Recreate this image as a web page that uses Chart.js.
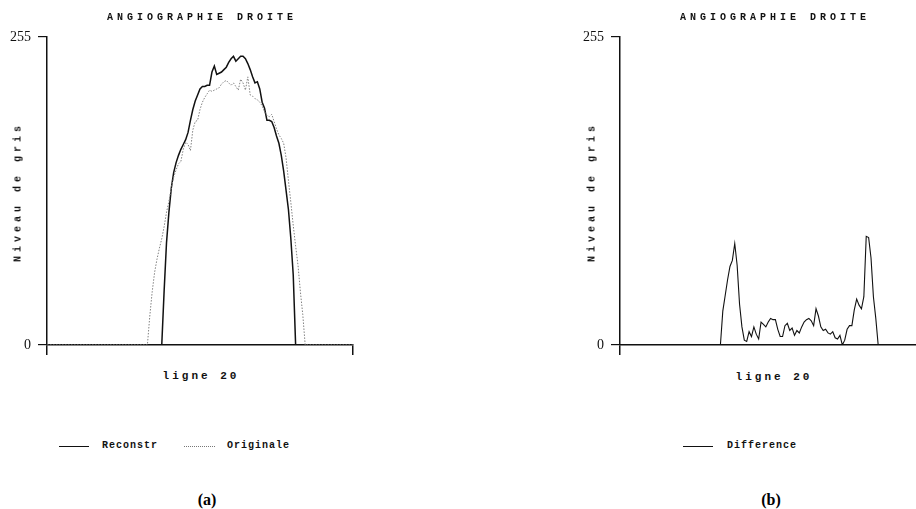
<!DOCTYPE html>
<html>
<head>
<meta charset="utf-8">
<script src="https://cdn.jsdelivr.net/npm/chart.js@4.4.1/dist/chart.umd.min.js"></script>
<style>
    html, body { margin: 0; padding: 0; background: #fff; width: 916px; height: 509px; overflow: hidden; }
    body { position: relative; }
    canvas { position: absolute; }
    .txt { position: absolute; font-family: "Liberation Mono", monospace; font-weight: bold; color: #111; white-space: nowrap; }
    .title { font-size: 10px; letter-spacing: 4px; transform: translateX(-50%); }
    .xlabel { font-size: 11px; letter-spacing: 3px; transform: translateX(-50%); }
    .ylabel { font-size: 10px; letter-spacing: 4px; transform: translate(-50%, -50%) rotate(-90deg); }
    .legend { font-size: 10px; letter-spacing: 1px; }
    .sample { position: absolute; height: 0; }
    .panel { position: absolute; font-family: "Liberation Serif", serif; font-weight: bold; font-size: 16px; transform: translateX(-50%); }
</style>
</head>
<body>
<canvas id="chartA" style="left:0;top:0;width:380px;height:370px"></canvas>
<canvas id="chartB" style="left:573px;top:0;width:380px;height:370px"></canvas>

<div class="txt title" style="left:202px;top:12px">ANGIOGRAPHIE DROITE</div>
<div class="txt title" style="left:775px;top:12px">ANGIOGRAPHIE DROITE</div>
<div class="txt ylabel" style="left:18px;top:192px">Niveau de gris</div>
<div class="txt ylabel" style="left:592px;top:192px">Niveau de gris</div>
<div class="txt xlabel" style="left:201px;top:370px">ligne 20</div>
<div class="txt xlabel" style="left:774px;top:371px">ligne 20</div>

<div class="sample" style="left:59px;top:446px;width:30px;border-top:1.5px solid #111"></div>
<div class="txt legend" style="left:102px;top:440px">Reconstr</div>
<div class="sample" style="left:184px;top:446px;width:31px;border-top:1px dotted #777"></div>
<div class="txt legend" style="left:227px;top:440px">Originale</div>
<div class="sample" style="left:683px;top:446px;width:30px;border-top:1px solid #111"></div>
<div class="txt legend" style="left:727px;top:440px">Difference</div>

<div class="panel" style="left:207px;top:491px">(a)</div>
<div class="panel" style="left:771px;top:491px">(b)</div>

<script>
    // pixel index along the profile (ligne 20)
    const xMin = 0;
    const xMax = 128;
    const yTicks = [0, 255];

    // reconstructed profile, starting at index 48
    const reconStart = 48;
    const reconstr = [0, 45, 85, 110, 130, 143, 151, 157, 162, 166, 170, 176, 186, 195, 202, 207,
        212, 214, 214, 215, 215, 226, 231, 224, 225, 226, 228, 230, 234, 237, 239, 235, 237, 239,
        239, 237, 233, 228, 222, 217, 218, 212, 201, 196, 186, 186, 185, 180, 173, 167, 157, 144,
        128, 112, 88, 58, 0];

    // original profile, starting at index 42
    const origStart = 42;
    const originale = [0, 24, 44, 60, 71, 80, 88, 98, 110, 119, 130, 139, 145, 150, 152, 162, 168,
        166, 161, 178, 185, 186, 195, 201, 205, 208, 211, 210, 211, 212, 213, 216, 218, 219, 217,
        215, 217, 214, 211, 220, 217, 211, 222, 207, 206, 204, 203, 201, 198, 193, 190, 189, 191,
        185, 179, 174, 171, 167, 155, 136, 118, 99, 82, 66, 44, 25, 0];

    // difference, starting at index 42
    const diffStart = 42;
    const difference = [0, 28, 41, 54, 65, 70, 84, 66, 34, 15, 4, 3, 11, 7, 15, 9, 5, 19, 17, 15,
        19, 22, 21, 21, 13, 7, 7, 16, 18, 12, 14, 8, 12, 10, 15, 19, 21, 22, 20, 16, 30, 24, 15,
        12, 13, 10, 9, 11, 6, 5, 8, 0, 4, 13, 16, 16, 29, 38, 33, 30, 40, 90, 89, 72, 40, 22, 0];

    function toPoints(start, values) {
        const pts = [{ x: xMin, y: 0 }];
        values.forEach((v, k) => pts.push({ x: start + k, y: v }));
        pts.push({ x: xMax, y: 0 });
        return pts;
    }

    function axisOptions() {
        return {
            x: {
                type: 'linear',
                min: xMin,
                max: xMax,
                afterBuildTicks: scale => { scale.ticks = [{ value: xMin }, { value: xMax }]; },
                afterFit: scale => { scale.height = 25; },
                grid: { drawOnChartArea: false, tickLength: 10, color: '#111', lineWidth: 1.5 },
                border: { color: '#111', width: 1.5 },
                ticks: { display: false }
            },
            y: {
                min: 0,
                max: 255,
                afterBuildTicks: scale => { scale.ticks = yTicks.map(v => ({ value: v })); },
                afterFit: scale => { scale.width = 47; },
                grid: { drawOnChartArea: false, tickLength: 9, color: '#111', lineWidth: 1.2 },
                border: { color: '#111', width: 1.5 },
                ticks: { color: '#111', padding: 7, font: { family: 'Liberation Serif', size: 14 } }
            }
        };
    }

    function makeChart(id, datasets) {
        return new Chart(document.getElementById(id), {
            type: 'line',
            data: { datasets: datasets },
            options: {
                responsive: false,
                animation: false,
                layout: { padding: { top: 37, left: 0, right: 27, bottom: 0 } },
                elements: { point: { radius: 0 }, line: { tension: 0 } },
                plugins: { legend: { display: false }, tooltip: { enabled: false } },
                scales: axisOptions()
            }
        });
    }

    makeChart('chartA', [
        {
            label: 'Originale',
            data: toPoints(origStart, originale),
            borderColor: '#808080',
            borderWidth: 1,
            borderDash: [1.5, 1.5]
        },
        {
            label: 'Reconstr',
            data: toPoints(reconStart, reconstr),
            borderColor: '#111',
            borderWidth: 1.5
        }
    ]);

    makeChart('chartB', [
        {
            label: 'Difference',
            data: toPoints(diffStart, difference),
            borderColor: '#111',
            borderWidth: 1.1
        }
    ]);
</script>
</body>
</html>
